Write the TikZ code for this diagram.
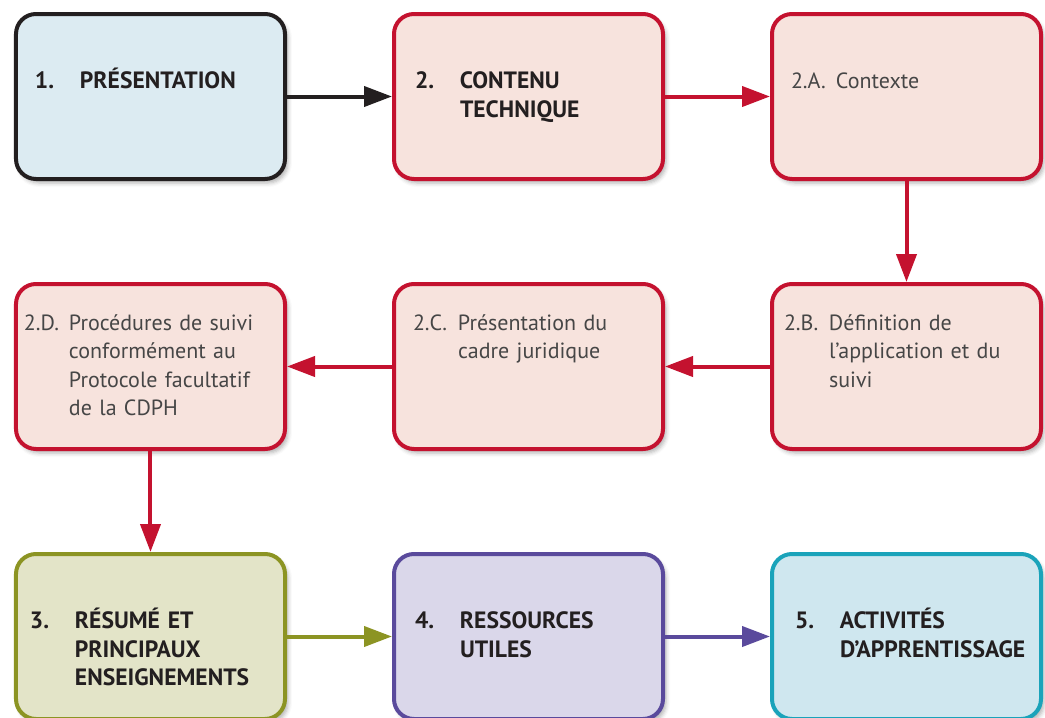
\documentclass[tikz,border=0pt]{standalone}
\usepackage{fontspec}
\setmainfont{PT Sans}
\usetikzlibrary{arrows.meta,shadows.blur}

\definecolor{ink}{HTML}{231F20}
\definecolor{subink}{HTML}{464646}
\definecolor{crimson}{HTML}{C4122F}
\definecolor{pinkfill}{HTML}{F7E3DD}
\definecolor{bluefill}{HTML}{DCEBF2}
\definecolor{olive}{HTML}{8C9423}
\definecolor{olivefill}{HTML}{E3E4C8}
\definecolor{violet}{HTML}{5A4A9C}
\definecolor{violetfill}{HTML}{DAD7EA}
\definecolor{teal}{HTML}{1AA3BA}
\definecolor{tealfill}{HTML}{CFE7EF}

% number, then the text hanging after it
\newcommand{\parttext}[3][5.5pt]{\hspace*{#1}\makebox[22.5pt][l]{#2}\begin{tabular}[t]{@{}l@{}}#3\end{tabular}}

\begin{document}
\begin{tikzpicture}[node distance=189pt, >={Triangle[length=14pt,width=10pt]},
  box/.style = {draw, line width=2pt, rounded corners=10pt, inner xsep=4pt, inner ysep=0pt, text width=126.5pt,
    blur shadow={shadow xshift=1.5pt, shadow yshift=-2pt, shadow opacity=30}},
  main/.style = {box, text height=37.35pt, text depth=45.15pt, font=\fontsize{11.8}{14.2}\selectfont\bfseries, text=ink},
  sub/.style = {box, text height=23.2pt, text depth=59.3pt, font=\fontsize{11}{14.2}\selectfont, text=subink},
  link/.style = {->, line width=2pt}]
	\useasboundingbox (-75.25pt,48.25pt) rectangle (447.25pt,-310.75pt);
	\node[main, draw=ink, fill=bluefill] (1) {\parttext{1.}{PRÉSENTATION}};
	\node[main, draw=crimson, fill=pinkfill, right of=1] (2) {\parttext[6.5pt]{2.}{CONTENU\\TECHNIQUE}};
	\node[sub, draw=crimson, fill=pinkfill, text height=37.35pt, text depth=45.15pt, right of=2] (2a) {\parttext{2.A.}{Contexte}};
	\node[sub, draw=crimson, fill=pinkfill, node distance=135pt, below of=2a] (2b) {\parttext[2pt]{2.B.}{Définition de\\l’application et du\\suivi}};
	\node[sub, draw=crimson, fill=pinkfill, left of=2b] (2c) {\parttext{2.C.}{Présentation du\\cadre juridique}};
	\node[sub, draw=crimson, fill=pinkfill, left of=2c] (2d) {\parttext[0pt]{2.D.}{Procédures de suivi\\conformément au\\Protocole facultatif\\de la CDPH}};
	\node[main, draw=olive, fill=olivefill, node distance=135pt, below of=2d] (3) {\parttext[3pt]{3.}{RÉSUMÉ ET\\PRINCIPAUX\\ENSEIGNEMENTS}};
	\node[main, draw=violet, fill=violetfill, right of=3] (4) {\parttext[6.5pt]{4.}{RESSOURCES\\UTILES}};
	\node[main, draw=teal, fill=tealfill, right of=4] (5) {\parttext[7.5pt]{5.}{ACTIVITÉS\\D’APPRENTISSAGE}};
	\draw[link, ink] (1) -- (2);
	\draw[link, crimson] (2) -- (2a);
	\draw[link, crimson] (2a) -- (2b);
	\draw[link, crimson] (2b) -- (2c);
	\draw[link, crimson] (2c) -- (2d);
	\draw[link, crimson] (2d) -- (3);
	\draw[link, olive] (3) -- (4);
	\draw[link, violet] (4) -- (5);
\end{tikzpicture}
\end{document}
